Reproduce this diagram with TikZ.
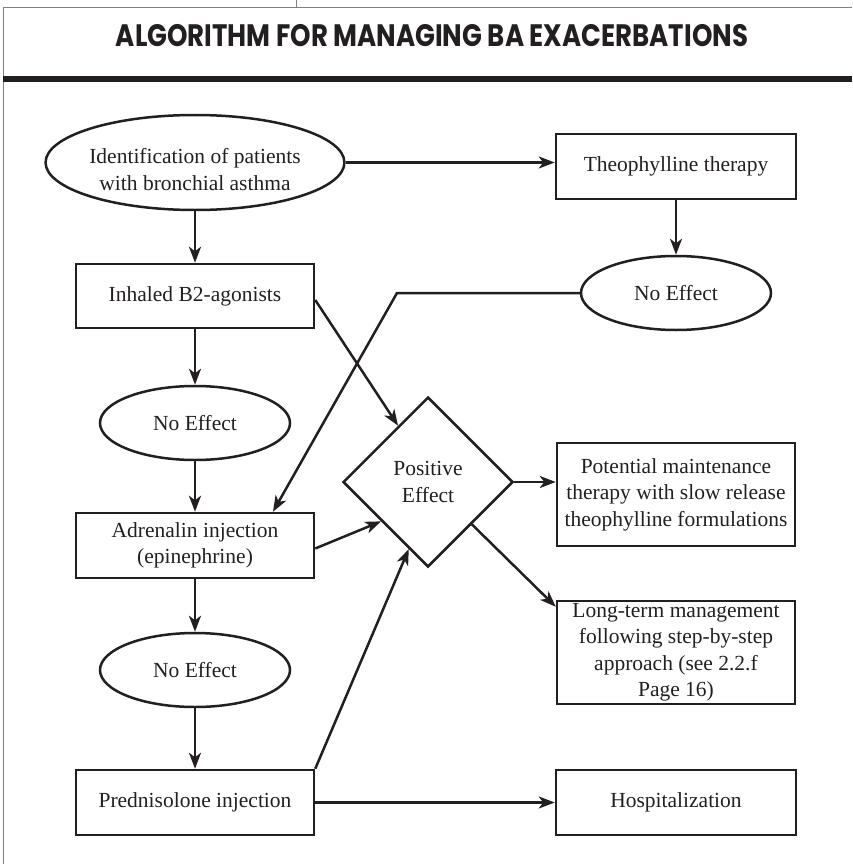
\documentclass[tikz,border=0pt]{standalone}
\usepackage{fontspec}
\setmainfont{Liberation Serif}
\newfontfamily\titlefont{Poppins}[FakeStretch=0.84]
\usepackage{tikz}
\usetikzlibrary{arrows.meta,shapes.geometric,positioning}

\newcommand{\flowtext}{\fontsize{21.5pt}{26.5pt}\selectfont}
\definecolor{ink}{HTML}{231F20}

\tikzset{
  box/.style={draw=ink, rectangle, line width=2.5pt, minimum width=238pt, minimum height=65pt,
    align=center, inner sep=2pt, font=\flowtext, text=ink},
  oval/.style={draw=ink, ellipse, line width=2.5pt, minimum width=190pt, minimum height=74pt,
    align=center, inner sep=0pt, font=\flowtext, text=ink},
  decision/.style={draw=ink, diamond, line width=2.5pt, minimum width=170pt, minimum height=170pt,
    align=center, inner sep=0pt, font=\flowtext, text=ink},
  link/.style={draw=ink, line width=2.5pt, -{Stealth[length=16pt,width=12pt,inset=4.5pt]}},
}

\begin{document}
\begin{tikzpicture}[x=1pt, y=-1pt]
        \useasboundingbox (0,0) rectangle (852,864);

        % frame and title
        \draw[gray, line width=0.8pt] (296,0) -- (296,7);
        \draw[gray, line width=0.8pt] (852,7) -- (3,7) -- (3,864);
        \draw[ink, line width=5.5pt] (3,79) -- (852,79);
        \node[text=ink, font={\titlefont\bfseries\fontsize{31pt}{33pt}\selectfont}] (title) at (432,36)
            {ALGORITHM FOR MANAGING BA EXACERBATIONS};

        % left column
        \node[oval, minimum width=285pt, minimum height=95pt] (ident) at (195,162.5)
            {\rule{0pt}{29pt}Identification of patients\\with bronchial asthma};
        \node[box, minimum height=64pt] (inhaled) at (195,296) {Inhaled B2-agonists};
        \node[oval] (noeffa) at (195,423) {No Effect};
        \node[box] (adren) at (195,545.5) {Adrenalin injection\\(epinephrine)};
        \node[oval] (noeffb) at (195,670) {No Effect};
        \node[box] (pred) at (195,802.5) {Prednisolone injection};

        % middle and right column
        \node[decision] (posit) at (428,482) {Positive\\Effect};
        \node[box, minimum width=240pt] (theo) at (676,166.5) {Theophylline therapy};
        \node[oval] (noeffc) at (676,293) {No Effect};
        \node[box, minimum height=103pt] (maint) at (676,494.5)
            {Potential maintenance\\therapy with slow release\\theophylline formulations};
        \node[box, minimum height=103pt] (longt) at (676,652.5)
            {Long-term management\\following step-by-step\\approach (see 2.2.f\\Page 16)};
        \node[box, minimum width=240pt] (hosp) at (676,802.5) {Hospitalization};

        \coordinate (bend) at (397,293);

        % connectors
        \draw[link] (ident.east) -- (ident.east -| theo.west);
        \draw[link] (ident.south) -- (inhaled.north);
        \draw[link] (theo.south) -- (noeffc.north);
        \draw[link] (inhaled.south) -- (noeffa.north);
        \draw[link] (noeffa.south) -- (adren.north);
        \draw[link] (adren.south) -- (noeffb.north);
        \draw[link] (noeffb.south) -- (pred.north);
        \draw[link] ([yshift=-4pt]inhaled.east) -- (posit.118);
        \draw[link] ([yshift=-3pt]adren.east) -- (posit.220);
        \draw[link] (pred.north east) -- (posit.254);
        \draw[link] (noeffc.west) -- (bend) -- ([xshift=78pt]adren.north);
        \draw[link] (posit.east) -- (posit.east -| maint.west);
        \draw[link] (posit.-44) -- ([yshift=-7pt]longt.north west);
        \draw[link] (pred.east) -- (hosp.west);

    \end{tikzpicture}
\end{document}
